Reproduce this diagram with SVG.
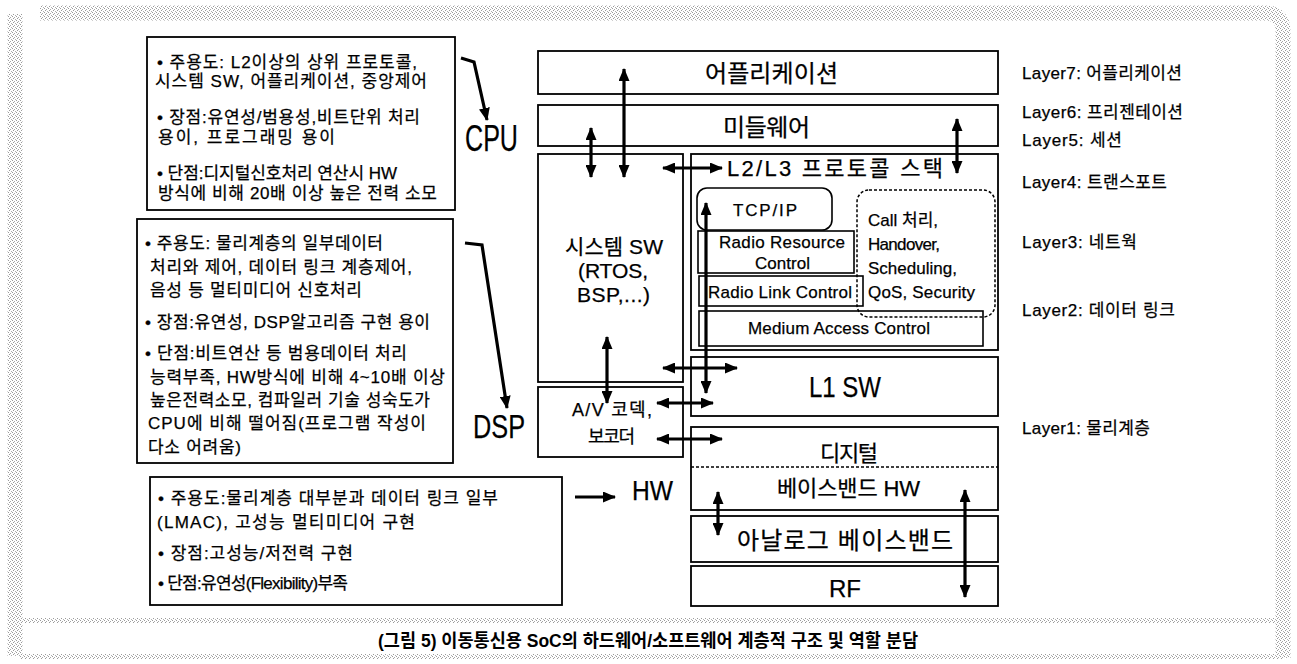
<svg xmlns="http://www.w3.org/2000/svg" width="1297" height="664" viewBox="0 0 1297 664">
<defs>
<pattern id="stip" width="4" height="4" patternUnits="userSpaceOnUse">
<rect x="0" y="0" width="1" height="1" fill="#9a9a9a"/>
<rect x="2" y="1" width="1" height="1" fill="#a8a8a8"/>
<rect x="1" y="2" width="1" height="1" fill="#9a9a9a"/>
<rect x="3" y="3" width="1" height="1" fill="#b0b0b0"/>
</pattern>
<marker id="ah" viewBox="0 0 13 11" refX="12" refY="5.5" markerWidth="13" markerHeight="11" markerUnits="userSpaceOnUse" orient="auto-start-reverse">
<path d="M0,0 L13,5.5 L0,11 z" fill="#000"/>
</marker>
</defs>
<style>
text{font-family:'Liberation Sans','Noto Sans CJK KR',sans-serif;fill:#000;dominant-baseline:central;stroke:#000;stroke-width:0.25}
.box{fill:#fff;stroke:#000;stroke-width:1.8}
.ibox{fill:none;stroke:#000;stroke-width:1.6}
.t16{font-size:17px}
.t17{font-size:17px}
.t20{font-size:21px}
.t22{font-size:22px}
.t24{font-size:24px}
.c{text-anchor:middle}
.dbl{stroke:#000;stroke-width:3.2;fill:none;marker-start:url(#ah);marker-end:url(#ah)}
.sgl{stroke:#000;stroke-width:3.2;fill:none;marker-end:url(#ah)}
</style>
<rect width="1297" height="664" fill="#fff"/>
<g id="frame">
<path d="M 40 13 H 1265 Q 1283 13 1283 31 V 658" stroke="url(#stip)" stroke-width="15" fill="none"/>
<path d="M 15 14 V 656" stroke="url(#stip)" stroke-width="15" fill="none"/>
<rect x="15" y="618" width="1268" height="5" fill="url(#stip)"/>
<rect x="20" y="654" width="1263" height="5" fill="url(#stip)"/>
</g>
<g id="cpu-box">
<rect class="box" x="147" y="37" width="308" height="173"/>
<text class="t16" x="157" y="62" textLength="260">• 주용도: L2이상의 상위 프로토콜,</text>
<text class="t16" x="155" y="81" textLength="272">시스템 SW, 어플리케이션, 중앙제어</text>
<text class="t16" x="157" y="117" textLength="263">• 장점:유연성/범용성,비트단위 처리</text>
<text class="t16" x="158" y="137" textLength="177">용이, 프로그래밍 용이</text>
<text class="t16" x="157" y="173" textLength="240">• 단점:디지털신호처리 연산시 HW</text>
<text class="t16" x="158" y="193" textLength="279">방식에 비해 20배 이상 높은 전력 소모</text>
</g>
<g id="dsp-box">
<rect class="box" x="137" y="219" width="316" height="244"/>
<text class="t16" x="145" y="243" textLength="238">• 주용도: 물리계층의 일부데이터</text>
<text class="t16" x="150" y="267" textLength="262">처리와 제어, 데이터 링크 계층제어,</text>
<text class="t16" x="150" y="290" textLength="212">음성 등 멀티미디어 신호처리</text>
<text class="t16" x="145" y="322" textLength="285">• 장점:유연성, DSP알고리즘 구현 용이</text>
<text class="t16" x="145" y="353" textLength="262">• 단점:비트연산 등 범용데이터 처리</text>
<text class="t16" x="150" y="377" textLength="295">능력부족, HW방식에 비해 4~10배 이상</text>
<text class="t16" x="150" y="400" textLength="280">높은전력소모, 컴파일러 기술 성숙도가</text>
<text class="t16" x="148" y="423" textLength="278">CPU에 비해 떨어짐(프로그램 작성이</text>
<text class="t16" x="148" y="447" textLength="93">다소 어려움)</text>
</g>
<g id="hw-box">
<rect class="box" x="150" y="477" width="412" height="128"/>
<text class="t16" x="158" y="498" textLength="340">• 주용도:물리계층 대부분과 데이터 링크 일부</text>
<text class="t16" x="157" y="522" textLength="258">(LMAC), 고성능 멀티미디어 구현</text>
<text class="t16" x="158" y="553" textLength="195">• 장점:고성능/저전력 구현</text>
<text class="t16" x="158" y="583" textLength="190">• 단점:유연성(Flexibility)부족</text>
</g>
<g id="labels">
<text x="465" y="138" style="font-size:36px" textLength="53" lengthAdjust="spacingAndGlyphs">CPU</text>
<text x="473" y="426" style="font-size:34px" textLength="52" lengthAdjust="spacingAndGlyphs">DSP</text>
<text x="632" y="490" style="font-size:28px" textLength="41" lengthAdjust="spacingAndGlyphs">HW</text>
</g>
<g id="application">
<rect class="box" x="538" y="51" width="460" height="43"/>
<text class="t24" x="705" y="73" textLength="133">어플리케이션</text>
</g>
<g id="middleware">
<rect class="box" x="538" y="105" width="460" height="41"/>
<text class="t24" x="723" y="127" textLength="87">미들웨어</text>
</g>
<g id="system-sw">
<rect class="box" x="538" y="154" width="145" height="228"/>
<text class="t20" x="565" y="246" textLength="98">시스템 SW</text>
<text class="t20" x="578" y="270" textLength="70">(RTOS,</text>
<text class="t20" x="577" y="294" textLength="73">BSP,...)</text>
</g>
<g id="l2l3">
<rect class="box" x="691" y="154" width="307" height="196"/>
<text class="t22" x="727" y="168" textLength="216">L2/L3 프로토콜 스택</text>
</g>
<g id="tcpip">
<rect class="ibox" x="697" y="188" width="135" height="42" rx="10"/>
<text class="t17" x="733" y="210" textLength="64">TCP/IP</text>
</g>
<g id="rrc">
<rect class="ibox" x="698" y="231" width="156" height="42"/>
<text class="t17" x="719" y="242" textLength="126">Radio Resource</text>
<text class="t17" x="755" y="263" textLength="55">Control</text>
</g>
<g id="rlc">
<rect class="ibox" x="699" y="276" width="164" height="30"/>
<text class="t17" x="708" y="292" textLength="144">Radio Link Control</text>
</g>
<g id="mac">
<rect class="ibox" x="699" y="311" width="284" height="35"/>
<text class="t17" x="748" y="328" textLength="182">Medium Access Control</text>
</g>
<g id="call">
<rect x="857" y="190" width="138" height="127" rx="12" fill="none" stroke="#000" stroke-width="1.5" stroke-dasharray="3 2"/>
<text class="t17" x="868" y="220" textLength="70">Call 처리,</text>
<text class="t17" x="868" y="244" textLength="72">Handover,</text>
<text class="t17" x="868" y="268" textLength="89">Scheduling,</text>
<text class="t17" x="868" y="292" textLength="107">QoS, Security</text>
</g>
<g id="l1sw">
<rect class="box" x="691" y="357" width="307" height="59"/>
<text x="809" y="387" style="font-size:29px" textLength="72" lengthAdjust="spacingAndGlyphs">L1 SW</text>
</g>
<g id="av">
<rect class="box" x="538" y="387" width="145" height="70"/>
<text style="font-size:18px" x="572" y="410" textLength="80">A/V 코덱,</text>
<text style="font-size:18px" x="588" y="437" textLength="47">보코더</text>
</g>
<g id="digital">
<rect class="box" x="691" y="427" width="307" height="83"/>
<line x1="691" y1="467" x2="998" y2="467" stroke="#000" stroke-width="1.3" stroke-dasharray="3 2"/>
<text class="t22" x="820" y="453" textLength="58">디지털</text>
<text class="t22" x="777" y="488" textLength="143">베이스밴드 HW</text>
</g>
<g id="analog">
<rect class="box" x="691" y="516" width="307" height="46"/>
<text class="t24" x="737" y="540" textLength="216">아날로그 베이스밴드</text>
</g>
<g id="rf">
<rect class="box" x="691" y="566" width="307" height="40"/>
<text class="t24 c" x="845" y="588">RF</text>
</g>
<g id="layers">
<text class="t16" x="1022" y="73" textLength="160">Layer7: 어플리케이션</text>
<text class="t16" x="1022" y="112" textLength="161">Layer6: 프리젠테이션</text>
<text class="t16" x="1022" y="140" textLength="100">Layer5: 세션</text>
<text class="t16" x="1022" y="182" textLength="145">Layer4: 트랜스포트</text>
<text class="t16" x="1022" y="242" textLength="115">Layer3: 네트웍</text>
<text class="t16" x="1022" y="310" textLength="153">Layer2: 데이터 링크</text>
<text class="t16" x="1022" y="428" textLength="128">Layer1: 물리계층</text>
</g>
<g id="connectors">
<line class="dbl" x1="591" y1="128" x2="591" y2="177"/>
<line class="dbl" x1="624" y1="69" x2="624" y2="177"/>
<line class="dbl" x1="663" y1="168" x2="722" y2="168"/>
<line class="dbl" x1="957" y1="119" x2="957" y2="173"/>
<line class="dbl" x1="706" y1="203" x2="706" y2="393"/>
<line class="dbl" x1="607" y1="337" x2="607" y2="403"/>
<line class="dbl" x1="663" y1="368" x2="737" y2="368"/>
<line class="dbl" x1="657" y1="403" x2="713" y2="403"/>
<line class="dbl" x1="657" y1="439" x2="722" y2="439"/>
<line class="dbl" x1="718" y1="492" x2="718" y2="535"/>
<line class="dbl" x1="965" y1="490" x2="965" y2="597"/>
<polyline class="sgl" points="461,58 474,62 487,120"/>
<polyline class="sgl" points="465,243 482,245 507,408"/>
<line class="sgl" x1="575" y1="497" x2="615" y2="497"/>
</g>
<g id="caption">
<text class="c" x="648" y="641" style="font-size:18px;font-weight:bold;stroke-width:0" textLength="540" lengthAdjust="spacingAndGlyphs">(그림 5) 이동통신용 SoC의 하드웨어/소프트웨어 계층적 구조 및 역할 분담</text>
</g>
</svg>
